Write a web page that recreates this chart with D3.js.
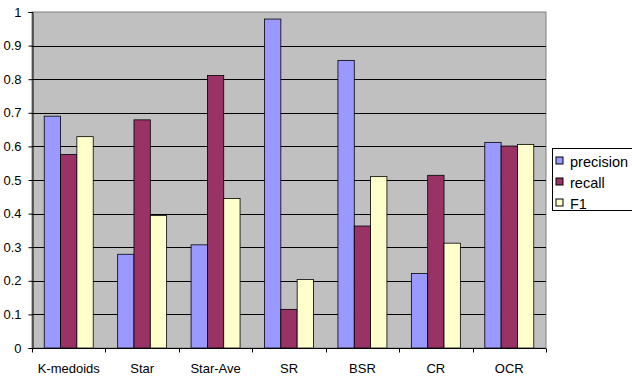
<!DOCTYPE html>
<html>
<head>
<meta charset="utf-8">
<script src="https://cdn.jsdelivr.net/npm/d3@7"></script>
<style>
  html, body { margin: 0; padding: 0; background: #fff; }
  svg { display: block; font-family: "Liberation Sans", Arial, sans-serif; }
</style>
</head>
<body>
<svg id="chart" width="632" height="376"></svg>
<script>
// Clustering methods compared on precision, recall and F1
const categories = ["K-medoids", "Star", "Star-Ave", "SR", "BSR", "CR", "OCR"];
const seriesNames = ["precision", "recall", "F1"];
const precision = [0.690, 0.279, 0.307, 0.979, 0.856, 0.222, 0.612];
const recall    = [0.576, 0.679, 0.811, 0.115, 0.363, 0.514, 0.601];
const f1        = [0.629, 0.394, 0.445, 0.204, 0.510, 0.312, 0.606];
const yTicks = [0, 0.1, 0.2, 0.3, 0.4, 0.5, 0.6, 0.7, 0.8, 0.9, 1];
const colors = ["#9999FF", "#993366", "#FFFFCC"];

const seriesValues = [precision, recall, f1];

const svg = d3.select("#chart");
const plot = { left: 32, right: 546, top: 12, bottom: 348 };

const x = d3.scaleBand()
  .domain(categories)
  .range([plot.left, plot.right])
  .paddingInner(0.333)
  .paddingOuter(0.1665);

const xs = d3.scaleBand()
  .domain(seriesNames)
  .range([0, x.bandwidth()]);

const y = d3.scaleLinear().domain([0, 1]).range([plot.bottom, plot.top]);

// plot area background
svg.append("rect")
  .attr("x", plot.left).attr("y", plot.top)
  .attr("width", plot.right - plot.left).attr("height", plot.bottom - plot.top)
  .attr("fill", "#C0C0C0")
  .attr("stroke", "#808080").attr("stroke-width", 1);

// horizontal gridlines
svg.append("g").selectAll("line")
  .data(yTicks.filter(t => t > 0 && t < 1))
  .join("line")
  .attr("x1", plot.left).attr("x2", plot.right)
  .attr("y1", d => Math.round(y(d)) + 0.5).attr("y2", d => Math.round(y(d)) + 0.5)
  .attr("stroke", "#000").attr("stroke-width", 1);

// bars
const groups = svg.append("g").selectAll("g")
  .data(categories)
  .join("g")
  .attr("transform", d => `translate(${x(d)},0)`);

groups.selectAll("rect")
  .data((d, i) => seriesNames.map((s, k) => ({ s, k, v: seriesValues[k][i] })))
  .join("rect")
  .attr("x", d => xs(d.s))
  .attr("y", d => y(d.v))
  .attr("width", xs.bandwidth())
  .attr("height", d => y(0) - y(d.v))
  .attr("fill", d => colors[d.k])
  .attr("stroke", "#000")
  .attr("stroke-width", 0.8);

// y axis
const yAxis = svg.append("g")
  .attr("transform", `translate(${plot.left + 0.5},0)`)
  .call(d3.axisLeft(y).tickValues(yTicks).tickFormat(d => d === 0 ? "0" : d === 1 ? "1" : d3.format(".1f")(d)).tickSize(4).tickPadding(7));
yAxis.select(".domain").attr("stroke", "#000");
yAxis.selectAll("text").attr("font-size", 13).attr("fill", "#000");

// x axis with ticks at category boundaries
const xAxis = svg.append("g")
  .attr("transform", `translate(0,${plot.bottom + 0.5})`);
xAxis.append("line")
  .attr("x1", plot.left).attr("x2", plot.right)
  .attr("stroke", "#000");
const step = x.step();
xAxis.selectAll("line.tick")
  .data(d3.range(categories.length + 1))
  .join("line")
  .attr("class", "tick")
  .attr("x1", i => Math.round(plot.left + i * step) + 0.5)
  .attr("x2", i => Math.round(plot.left + i * step) + 0.5)
  .attr("y1", 0).attr("y2", 4)
  .attr("stroke", "#000");
xAxis.selectAll("text")
  .data(categories)
  .join("text")
  .attr("x", d => x(d) + x.bandwidth() / 2)
  .attr("y", 24)
  .attr("text-anchor", "middle")
  .attr("font-size", 13)
  .attr("fill", "#000")
  .text(d => d);

// legend
const legend = svg.append("g").attr("transform", "translate(552.5,148.5)");
legend.append("rect")
  .attr("width", 90).attr("height", 62)
  .attr("fill", "#fff").attr("stroke", "#000").attr("stroke-width", 1);
const items = legend.selectAll("g.item")
  .data(seriesNames)
  .join("g")
  .attr("class", "item")
  .attr("transform", (d, i) => `translate(0,${12.5 + i * 21})`);
items.append("rect")
  .attr("x", 3.5).attr("y", -4)
  .attr("width", 7).attr("height", 7)
  .attr("fill", (d, i) => colors[i])
  .attr("stroke", "#000").attr("stroke-width", 1);
items.append("text")
  .attr("x", 17.5).attr("y", 5.5)
  .attr("font-size", 14.5)
  .attr("fill", "#000")
  .text(d => d);
</script>
</body>
</html>
